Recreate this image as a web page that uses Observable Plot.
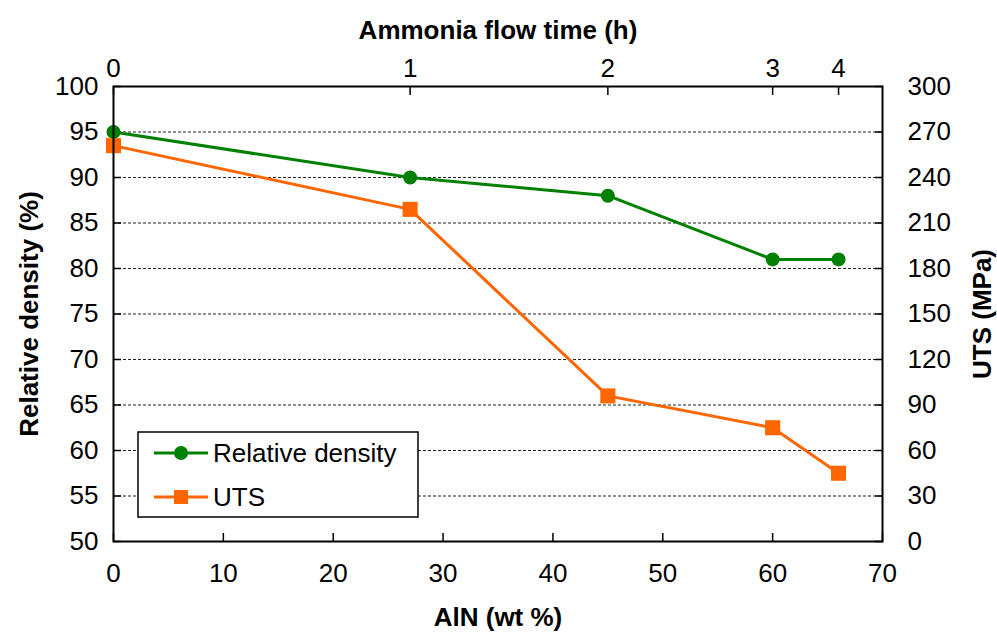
<!DOCTYPE html>
<html><head><meta charset="utf-8">
<script src="https://cdn.jsdelivr.net/npm/d3@7"></script>
<script src="https://cdn.jsdelivr.net/npm/@observablehq/plot@0.6"></script>
<style>
body{margin:0;background:#fff}
#wrap{position:relative;width:997px;height:634px}
#wrap svg, #wrap svg text{font-family:"Liberation Sans", Arial, sans-serif}
#legend{position:absolute;left:0;top:0;pointer-events:none}
</style>
</head><body><div id="wrap"></div>
<script>
const aln = [0, 27, 45, 60, 66];
const flowTime = [0, 1, 2, 3, 4];
const relDensity = [95, 90, 88, 81, 81];
const uts = [261, 219, 96, 75, 45];
const xTicks = [0, 10, 20, 30, 40, 50, 60, 70];
const leftTicks = [50, 55, 60, 65, 70, 75, 80, 85, 90, 95, 100];
const rightTicks = [0, 30, 60, 90, 120, 150, 180, 210, 240, 270, 300];
const seriesNames = ["Relative density", "UTS"];
const colors = ["#008000", "#FF6600"];

const toLeft = u => 50 + u / 6;
const dens = aln.map((x, i) => ({x, y: relDensity[i]}));
const str = aln.map((x, i) => ({x, y: toLeft(uts[i])}));

const W = 997, H = 634, mL = 113, mR = 115, mT = 86, mB = 93;
const FONT = '"Liberation Sans", Arial, sans-serif';

const chart = Plot.plot({
  width: W, height: H,
  marginLeft: mL, marginRight: mR, marginTop: mT, marginBottom: mB,
  style: {fontFamily: FONT, fontSize: "26px", color: "black", background: "white"},
  x: {domain: [0, 70]},
  y: {domain: [50, 100]},
  marks: [
    Plot.ruleY(leftTicks.slice(1, -1), {stroke: "#222", strokeWidth: 1, strokeDasharray: "3,2"}),
    Plot.axisX({anchor: "bottom", ticks: xTicks, tickSize: -8, tickPadding: 30, label: null, strokeWidth: 1.5}),
    Plot.axisX({anchor: "top", ticks: aln, tickFormat: (d) => flowTime[aln.indexOf(d)], tickSize: -8, tickPadding: 18, label: null, strokeWidth: 1.5}),
    Plot.axisY({anchor: "left", ticks: leftTicks, tickSize: -8, tickPadding: 23, label: null, strokeWidth: 1.5}),
    Plot.axisY({anchor: "right", ticks: rightTicks.map(toLeft), tickFormat: d => Math.round((d - 50) * 6), tickSize: -8, tickPadding: 33, label: null, strokeWidth: 1.5}),
    Plot.line(dens, {x: "x", y: "y", stroke: colors[0], strokeWidth: 3}),
    Plot.line(str, {x: "x", y: "y", stroke: colors[1], strokeWidth: 3}),
    Plot.dot(dens, {x: "x", y: "y", r: 7, fill: colors[0], symbol: "circle"}),
    Plot.dot(str, {x: "x", y: "y", r: 8.5, fill: colors[1], symbol: "square"}),
    Plot.frame({stroke: "black", strokeWidth: 2}),
    Plot.text(["AlN (wt %)"], {frameAnchor: "bottom", dy: 76, lineAnchor: "middle", textAnchor: "middle", text: d => d, fontWeight: "bold", fontSize: 26}),
    Plot.text(["Ammonia flow time (h)"], {frameAnchor: "top", dy: -56, lineAnchor: "middle", textAnchor: "middle", text: d => d, fontWeight: "bold", fontSize: 26}),
    Plot.text(["Relative density (%)"], {frameAnchor: "left", dx: -84, rotate: -90, lineAnchor: "middle", textAnchor: "middle", text: d => d, fontWeight: "bold", fontSize: 26}),
    Plot.text(["UTS (MPa)"], {frameAnchor: "right", dx: 100, rotate: -90, lineAnchor: "middle", textAnchor: "middle", text: d => d, fontWeight: "bold", fontSize: 26})
  ]
});
const wrap = document.getElementById("wrap");
wrap.appendChild(chart);

// legend overlay
const ns = "http://www.w3.org/2000/svg";
const svg = document.createElementNS(ns, "svg");
svg.setAttribute("id", "legend");
svg.setAttribute("width", W); svg.setAttribute("height", H);
const mk = (tag, attrs) => { const e = document.createElementNS(ns, tag); for (const k in attrs) e.setAttribute(k, attrs[k]); svg.appendChild(e); return e; };
const bx = 138, by = 432, bw = 280, bh = 85;
mk("rect", {x: bx, y: by, width: bw, height: bh, fill: "white", stroke: "black", "stroke-width": 1.5});
seriesNames.forEach((name, i) => {
  const cy = by + 21 + i * 44;
  mk("line", {x1: bx + 16, x2: bx + 70, y1: cy, y2: cy, stroke: colors[i], "stroke-width": 3});
  if (i === 0) mk("circle", {cx: bx + 43, cy, r: 7, fill: colors[i]});
  else mk("rect", {x: bx + 36, y: cy - 7, width: 14, height: 14, fill: colors[i]});
  const t = mk("text", {x: bx + 75, y: cy + 9, "font-size": 26, fill: "black"});
  t.textContent = name;
});
wrap.appendChild(svg);
</script>
</body></html>
